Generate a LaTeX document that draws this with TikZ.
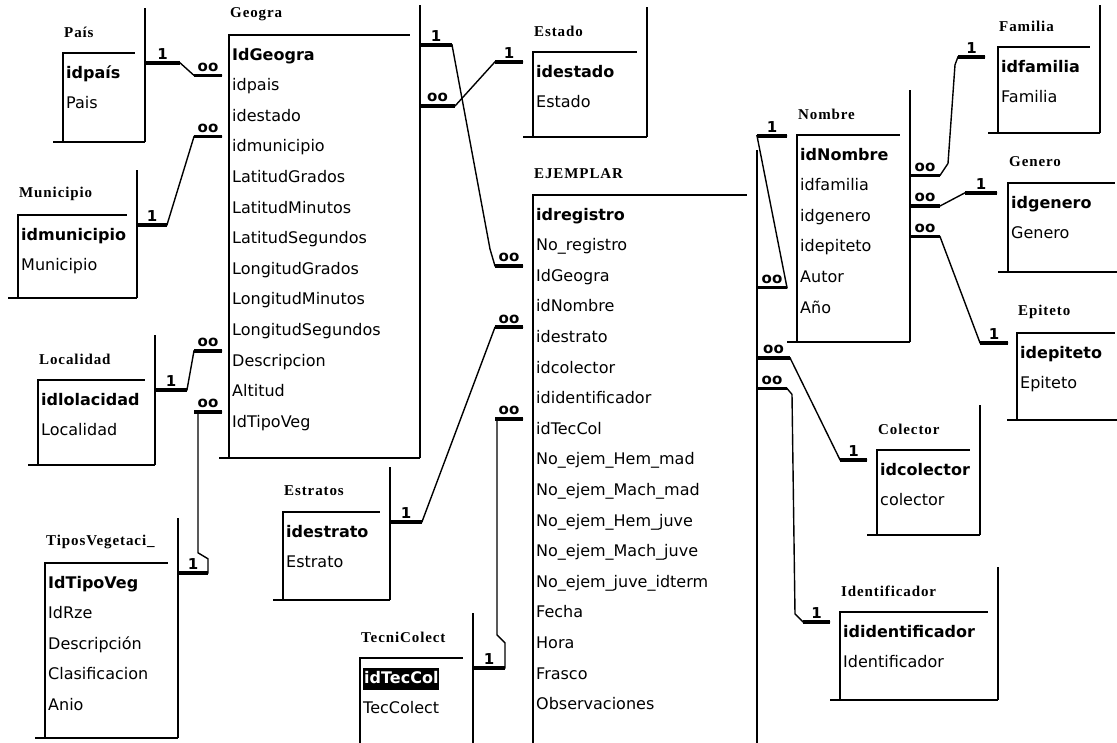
\documentclass[tikz,border=0pt]{standalone}
\usepackage{fontspec}
\setmainfont{DejaVu Sans}
\newfontfamily\titulofont[LetterSpace=6]{Liberation Serif}
\usetikzlibrary{calc}

\tikzset{
  cuerpo/.style={inner sep=0pt,outer sep=0pt,draw=none},
  campo/.style={anchor=west,inner sep=0pt,minimum height=22pt,text height=12pt,text depth=4pt,font=\fontsize{16}{19}\selectfont},
  clave/.style={campo,font=\fontsize{16}{19}\selectfont\bfseries},
  clavesel/.style={clave,fill=black,text=white,inner xsep=1pt},
  titulo/.style={anchor=west,inner sep=0pt,font=\titulofont\fontsize{15}{17}\selectfont\bfseries},
  card/.style={inner sep=0pt,above=2pt,font=\fontsize{15}{17}\selectfont\bfseries},
  marco/.style={line width=1.3pt},
  borde/.style={line width=2.6pt},
  linea/.style={line width=1.4pt},
  stub/.style={line width=3.6pt}
}

% table window: [key style]{id}{title}{left}{top}{right}{bottom}{fields}
\newcommand{\tabla}[8][clave]{%
  \node[cuerpo,minimum width={#6-#4},minimum height={#7-#5}] (#2) at ({(#4+#6)/2},{(#5+#7)/2}) {};
  \node[titulo] (#2-t) at ({#4+1},{#5-21}) {#3};
  \draw[marco] (#2.south west) -- (#2.north west) -- ([xshift=-10pt]#2.north east);
  \draw[marco] ([xshift=-10pt]#2.south west) -- (#2.south east);
  \draw[borde] (#2.south east) -- ({#6},{max(5,#5-45)});
  \foreach \c [count=\i] in {#8}{%
    \ifnum\i=1 \node[#1] (#2-\i) at ({#4+3},{#5+21+(\i-1)*30.6}) {\c};%
    \else \node[campo] (#2-\i) at ({#4+3},{#5+21+(\i-1)*30.6}) {\c};\fi}%
}
% thick ends of a relation, between coordinates a-b and c-d
\newcommand{\stubs}[2]{\draw[stub] (a) -- node[card]{#1} (b) (c) -- node[card]{#2} (d);}

\begin{document}
\begin{tikzpicture}[x=1pt,y=-1pt]
  \useasboundingbox (0,0) rectangle (1117,742);

  \tabla{pais}{País}{63}{53}{145}{142}{idpaís,Pais}
  \tabla{geogra}{Geogra}{229}{35}{420}{458}{IdGeogra,idpais,idestado,idmunicipio,LatitudGrados,LatitudMinutos,LatitudSegundos,LongitudGrados,LongitudMinutos,LongitudSegundos,Descripcion,Altitud,IdTipoVeg}
  \tabla{mun}{Municipio}{18}{215}{137}{298}{idmunicipio,Municipio}
  \tabla{loc}{Localidad}{38}{380}{155}{465}{idlolacidad,Localidad}
  \tabla{tipos}{TiposVegetaci\_}{45}{563}{178}{738}{IdTipoVeg,IdRze,Descripción,Clasificacion,Anio}
  \tabla{estado}{Estado}{533}{52}{647}{137}{idestado,Estado}
  \tabla{ejemplar}{EJEMPLAR}{533}{195}{757}{760}{idregistro,No\_registro,IdGeogra,idNombre,idestrato,idcolector,ididentificador,idTecCol,No\_ejem\_Hem\_mad,No\_ejem\_Mach\_mad,No\_ejem\_Hem\_juve,No\_ejem\_Mach\_juve,No\_ejem\_juve\_idterm,Fecha,Hora,Frasco,Observaciones}
  \tabla{estratos}{Estratos}{283}{512}{390}{600}{idestrato,Estrato}
  \tabla[clavesel]{tecni}{TecniColect}{360}{658}{473}{760}{idTecCol,TecColect}
  \tabla{nombre}{Nombre}{797}{135}{910}{342}{idNombre,idfamilia,idgenero,idepiteto,Autor,Año}
  \tabla{familia}{Familia}{998}{47}{1100}{133}{idfamilia,Familia}
  \tabla{genero}{Genero}{1008}{183}{1125}{272}{idgenero,Genero}
  \tabla{epiteto}{Epiteto}{1017}{333}{1125}{420}{idepiteto,Epiteto}
  \tabla{colector}{Colector}{877}{450}{980}{535}{idcolector,colector}
  \tabla{ident}{Identificador}{840}{612}{998}{700}{ididentificador,Identificador}

  % relations into Geogra
  \draw[linea] (pais-1.north -| pais.east) coordinate (a) -- ++(35,0) coordinate (b)
    -- ($(geogra-2.north -| geogra.west)+(-35,0)$) coordinate (c) -- ($(geogra-2.north -| geogra.west)+(-7,0)$) coordinate (d);
  \stubs{1}{oo}
  \draw[linea] (mun-1.north -| mun.east) coordinate (a) -- ++(30,0) coordinate (b)
    -- ($(geogra-4.north -| geogra.west)+(-35,0)$) coordinate (c) -- ($(geogra-4.north -| geogra.west)+(-7,0)$) coordinate (d);
  \stubs{1}{oo}
  \draw[linea] (loc-1.north -| loc.east) coordinate (a) -- ++(32,0) coordinate (b)
    -- ($(geogra-11.north -| geogra.west)+(-35,0)$) coordinate (c) -- ($(geogra-11.north -| geogra.west)+(-7,0)$) coordinate (d);
  \stubs{1}{oo}
  \draw[linea] (tipos-1.north -| tipos.east) coordinate (a) -- ++(30,0) coordinate (b) -- ++(0,-14) -- ++(-10,-6)
    |- ($(geogra-13.north -| geogra.west)+(-35,0)$) coordinate (c) -- ($(geogra-13.north -| geogra.west)+(-7,0)$) coordinate (d);
  \stubs{1}{oo}

  % relations out of Geogra
  \draw[linea] (geogra-3.north -| geogra.east) coordinate (a) -- ++(35,0) coordinate (b)
    -- ($(estado-1.north -| estado.west)+(-38,0)$) coordinate (c) -- ($(estado-1.north -| estado.west)+(-10,0)$) coordinate (d);
  \stubs{oo}{1}
  \draw[linea] (geogra-1.north -| geogra.east) coordinate (a) -- ++(32,0) coordinate (b)
    -- ($(ejemplar-3.north -| ejemplar.west)+(-43,-17)$) -- ($(ejemplar-3.north -| ejemplar.west)+(-38,0)$) coordinate (c)
    -- ($(ejemplar-3.north -| ejemplar.west)+(-10,0)$) coordinate (d);
  \stubs{1}{oo}

  % relations into EJEMPLAR
  \draw[linea] (estratos-1.north -| estratos.east) coordinate (a) -- ++(32,0) coordinate (b)
    -- ($(ejemplar-5.north -| ejemplar.west)+(-38,0)$) coordinate (c) -- ($(ejemplar-5.north -| ejemplar.west)+(-10,0)$) coordinate (d);
  \stubs{1}{oo}
  \draw[linea] (tecni-1.north -| tecni.east) coordinate (a) -- ++(32,0) coordinate (b) -- ++(0,-25) -- ++(-8,-8)
    |- ($(ejemplar-8.north -| ejemplar.west)+(-38,0)$) coordinate (c) -- ($(ejemplar-8.north -| ejemplar.west)+(-10,0)$) coordinate (d);
  \stubs{1}{oo}
  \draw[linea] ($(ejemplar-4.north -| ejemplar.east)+(0,-9)$) coordinate (a) -- ++(30,0) coordinate (b)
    -- ($(nombre-1.north -| nombre.west)+(-40,-9)$) coordinate (c) -- ($(nombre-1.north -| nombre.west)+(-10,-9)$) coordinate (d);
  \stubs{oo}{1}
  \draw[linea] (ejemplar-6.north -| ejemplar.east) coordinate (a) -- ++(33,0) coordinate (b)
    -- ($(colector-1.north -| colector.west)+(-37,0)$) coordinate (c) -- ($(colector-1.north -| colector.west)+(-10,0)$) coordinate (d);
  \stubs{oo}{1}
  \draw[linea] (ejemplar-7.north -| ejemplar.east) coordinate (a) -- ++(30,0) coordinate (b) -- ++(5,6)
    -- ($(ident-1.north -| ident.west)+(-45,-8)$) -- ($(ident-1.north -| ident.west)+(-37,0)$) coordinate (c)
    -- ($(ident-1.north -| ident.west)+(-10,0)$) coordinate (d);
  \stubs{oo}{1}

  % relations out of Nombre
  \draw[linea] (nombre-2.north -| nombre.east) coordinate (a) -- ++(30,0) coordinate (b) -- ++(8,-12)
    -- ($(familia-1.north -| familia.west)+(-43,8)$) -- ($(familia-1.north -| familia.west)+(-40,0)$) coordinate (c)
    -- ($(familia-1.north -| familia.west)+(-13,0)$) coordinate (d);
  \stubs{oo}{1}
  \draw[linea] (nombre-3.north -| nombre.east) coordinate (a) -- ++(30,0) coordinate (b)
    -- ($(genero-1.north -| genero.west)+(-43,0)$) coordinate (c) -- ($(genero-1.north -| genero.west)+(-11,0)$) coordinate (d);
  \stubs{oo}{1}
  \draw[linea] (nombre-4.north -| nombre.east) coordinate (a) -- ++(30,0) coordinate (b)
    -- ($(epiteto-1.north -| epiteto.west)+(-37,0)$) coordinate (c) -- ($(epiteto-1.north -| epiteto.west)+(-9,0)$) coordinate (d);
  \stubs{oo}{1}
\end{tikzpicture}
\end{document}
